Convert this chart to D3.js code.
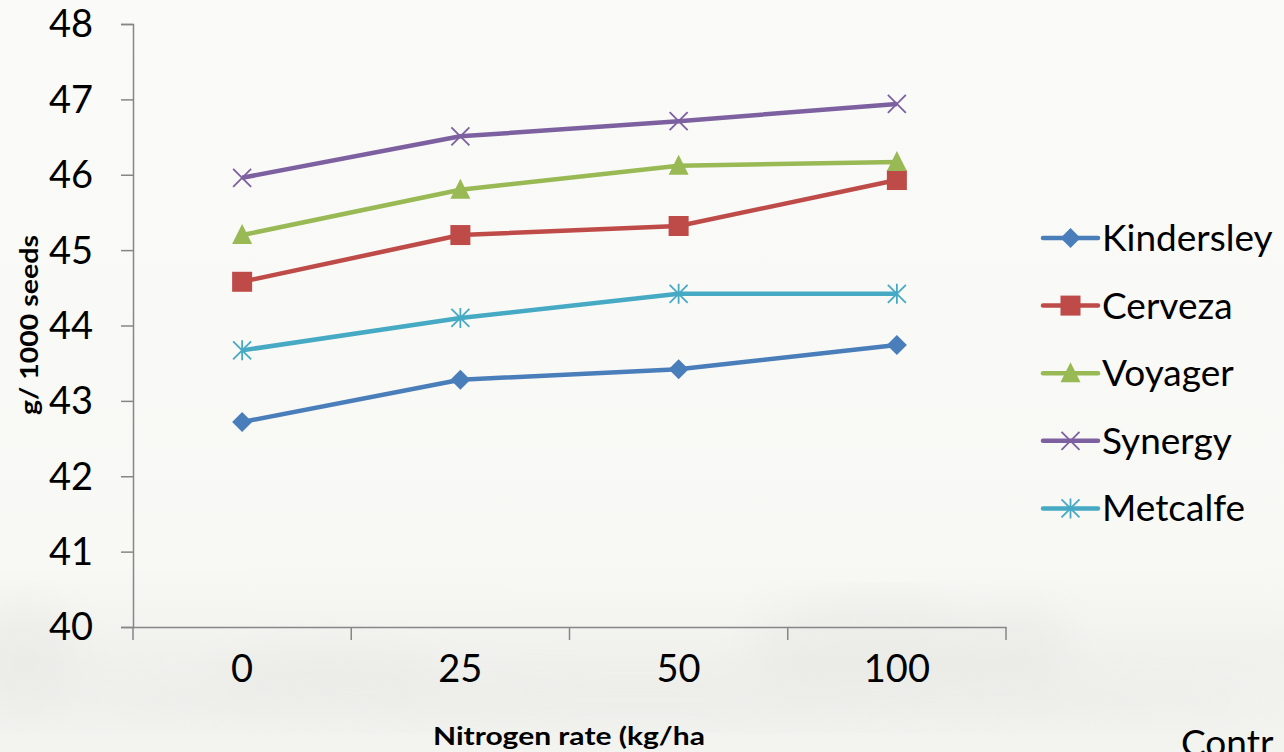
<!DOCTYPE html>
<html>
<head>
<meta charset="utf-8">
<script src="https://cdn.jsdelivr.net/npm/d3@7"></script>
<style>
  body { margin: 0; background: #f8f8f6; }
  svg { display: block; font-family: Lato, "Open Sans", sans-serif; }
</style>
</head>
<body>
<svg id="chart"></svg>
<script>
const categories = ["0", "25", "50", "100"];
const seriesNames = ["Kindersley", "Cerveza", "Voyager", "Synergy", "Metcalfe"];
const kindersley = [42.72, 43.28, 43.42, 43.74];
const cerveza = [44.58, 45.20, 45.32, 45.93];
const voyager = [45.20, 45.80, 46.12, 46.17];
const synergy = [45.96, 46.51, 46.71, 46.94];
const metcalfe = [43.67, 44.10, 44.42, 44.42];
const yTicks = [40, 41, 42, 43, 44, 45, 46, 47, 48];

const width = 1284;
const height = 752;
const margin = {left: 133, right: 278, top: 24, bottom: 125};
const font = "Lato, 'Open Sans', sans-serif";

const series = [
    {name: seriesNames[0], values: kindersley, color: "#4a7ebb", symbol: "diamond"},
    {name: seriesNames[1], values: cerveza, color: "#be4b48", symbol: "square"},
    {name: seriesNames[2], values: voyager, color: "#98b954", symbol: "triangle"},
    {name: seriesNames[3], values: synergy, color: "#7d60a0", symbol: "x"},
    {name: seriesNames[4], values: metcalfe, color: "#46aac5", symbol: "star"}
];

const svg = d3.select("#chart")
    .attr("width", width)
    .attr("height", height);

// faded background photo, roughly
const defs = svg.append("defs");
const grad = defs.append("linearGradient").attr("id", "bg").attr("x1", 0).attr("y1", 0).attr("x2", 0).attr("y2", 1);
grad.append("stop").attr("offset", "0").attr("stop-color", "#fafaf8");
grad.append("stop").attr("offset", "0.75").attr("stop-color", "#f8f8f5");
grad.append("stop").attr("offset", "0.88").attr("stop-color", "#f0f0ed");
grad.append("stop").attr("offset", "1").attr("stop-color", "#f3f3f0");
defs.append("filter").attr("id", "blur").append("feGaussianBlur").attr("stdDeviation", 18);

svg.append("rect").attr("width", width).attr("height", height).attr("fill", "url(#bg)");
const haze = svg.append("g").attr("filter", "url(#blur)").attr("fill", "#e6e6e3").attr("opacity", 0.45);
haze.append("ellipse").attr("cx", 25).attr("cy", 660).attr("rx", 50).attr("ry", 60);
haze.append("ellipse").attr("cx", 330).attr("cy", 675).attr("rx", 110).attr("ry", 25);
haze.append("ellipse").attr("cx", 880).attr("cy", 650).attr("rx", 130).attr("ry", 55);
haze.append("ellipse").attr("cx", 1020).attr("cy", 650).attr("rx", 50).attr("ry", 45);
haze.append("ellipse").attr("cx", 640).attr("cy", 700).attr("rx", 620).attr("ry", 20);

const x = d3.scaleBand()
    .domain(categories)
    .range([margin.left, width - margin.right]);

const y = d3.scaleLinear()
    .domain([40, 48])
    .range([height - margin.bottom, margin.top]);

// y axis
const yAxis = svg.append("g")
    .attr("transform", `translate(${margin.left},0)`)
    .call(d3.axisLeft(y).tickValues(yTicks).tickSize(12).tickPadding(28));
yAxis.attr("font-family", font);
yAxis.selectAll("text").attr("font-size", 38).attr("fill", "#000").attr("dy", "0.34em");

// x axis
const xAxis = svg.append("g")
    .attr("transform", `translate(0,${height - margin.bottom})`)
    .call(d3.axisBottom(x).tickSize(0).tickPadding(28));
xAxis.attr("font-family", font);
xAxis.selectAll("text").attr("font-size", 38).attr("fill", "#000").attr("dy", "0.71em");
xAxis.selectAll(".tick line").remove();
xAxis.selectAll(".bound")
    .data(d3.range(categories.length + 1))
    .enter().append("line")
    .attr("x1", i => margin.left + i * x.bandwidth())
    .attr("x2", i => margin.left + i * x.bandwidth())
    .attr("y1", 0)
    .attr("y2", 13)
    .attr("stroke", "#868686")
    .attr("stroke-width", 1.5);

svg.selectAll(".domain, .tick line").attr("stroke", "#868686").attr("stroke-width", 1.5);

// axis titles
svg.append("text")
    .attr("x", 569)
    .attr("y", 745)
    .attr("text-anchor", "middle")
    .attr("font-size", 25)
    .attr("font-weight", "bold")
    .attr("textLength", 272)
    .attr("lengthAdjust", "spacingAndGlyphs")
    .text("Nitrogen rate (kg/ha");

svg.append("text")
    .attr("transform", "translate(38,325) rotate(-90)")
    .attr("text-anchor", "middle")
    .attr("font-size", 25)
    .attr("font-weight", "bold")
    .attr("textLength", 180)
    .attr("lengthAdjust", "spacingAndGlyphs")
    .text("g/ 1000 seeds");

function drawMarker(g, s, cx, cy) {
    if (s.symbol === "diamond") {
        g.append("path").attr("d", `M${cx},${cy - 10}L${cx + 10},${cy}L${cx},${cy + 10}L${cx - 10},${cy}Z`).attr("fill", s.color);
    } else if (s.symbol === "square") {
        g.append("rect").attr("x", cx - 10).attr("y", cy - 10).attr("width", 20).attr("height", 20).attr("fill", s.color);
    } else if (s.symbol === "triangle") {
        g.append("path").attr("d", `M${cx},${cy - 11}L${cx + 10},${cy + 9}L${cx - 10},${cy + 9}Z`).attr("fill", s.color);
    } else if (s.symbol === "x") {
        g.append("path").attr("d", `M${cx - 9},${cy - 9}L${cx + 9},${cy + 9}M${cx - 9},${cy + 9}L${cx + 9},${cy - 9}`)
            .attr("stroke", s.color).attr("stroke-width", 1.8);
    } else {
        g.append("path").attr("d", `M${cx - 9},${cy - 9}L${cx + 9},${cy + 9}M${cx - 9},${cy + 9}L${cx + 9},${cy - 9}M${cx},${cy - 10}L${cx},${cy + 10}`)
            .attr("stroke", s.color).attr("stroke-width", 1.8);
    }
}

const line = d3.line()
    .x((d, i) => x(categories[i]) + x.bandwidth() / 2)
    .y(d => y(d));

series.forEach(s => {
    const g = svg.append("g");
    g.append("path")
        .attr("d", line(s.values))
        .attr("fill", "none")
        .attr("stroke", s.color)
        .attr("stroke-width", 4.5)
        .attr("stroke-linejoin", "round");
    s.values.forEach((v, i) => drawMarker(g, s, x(categories[i]) + x.bandwidth() / 2, y(v)));
});

// legend
const legend = svg.append("g").attr("transform", "translate(1043,238)");
series.forEach((s, i) => {
    const row = legend.append("g").attr("transform", `translate(0,${i * 67.6})`);
    row.append("line")
        .attr("x1", 0).attr("x2", 55).attr("y1", 0).attr("y2", 0)
        .attr("stroke", s.color).attr("stroke-width", 4.5).attr("stroke-linecap", "round");
    drawMarker(row, s, 27.5, 0);
    row.append("text")
        .attr("x", 59)
        .attr("y", 0)
        .attr("dy", "0.35em")
        .attr("font-size", 37)
        .attr("fill", "#000")
        .text(s.name);
});

// slide text cut off by the bottom edge, as in the source
svg.append("text")
    .attr("x", 1181)
    .attr("y", 756)
    .attr("font-size", 37)
    .attr("fill", "#000")
    .text("Contr");
</script>
</body>
</html>
